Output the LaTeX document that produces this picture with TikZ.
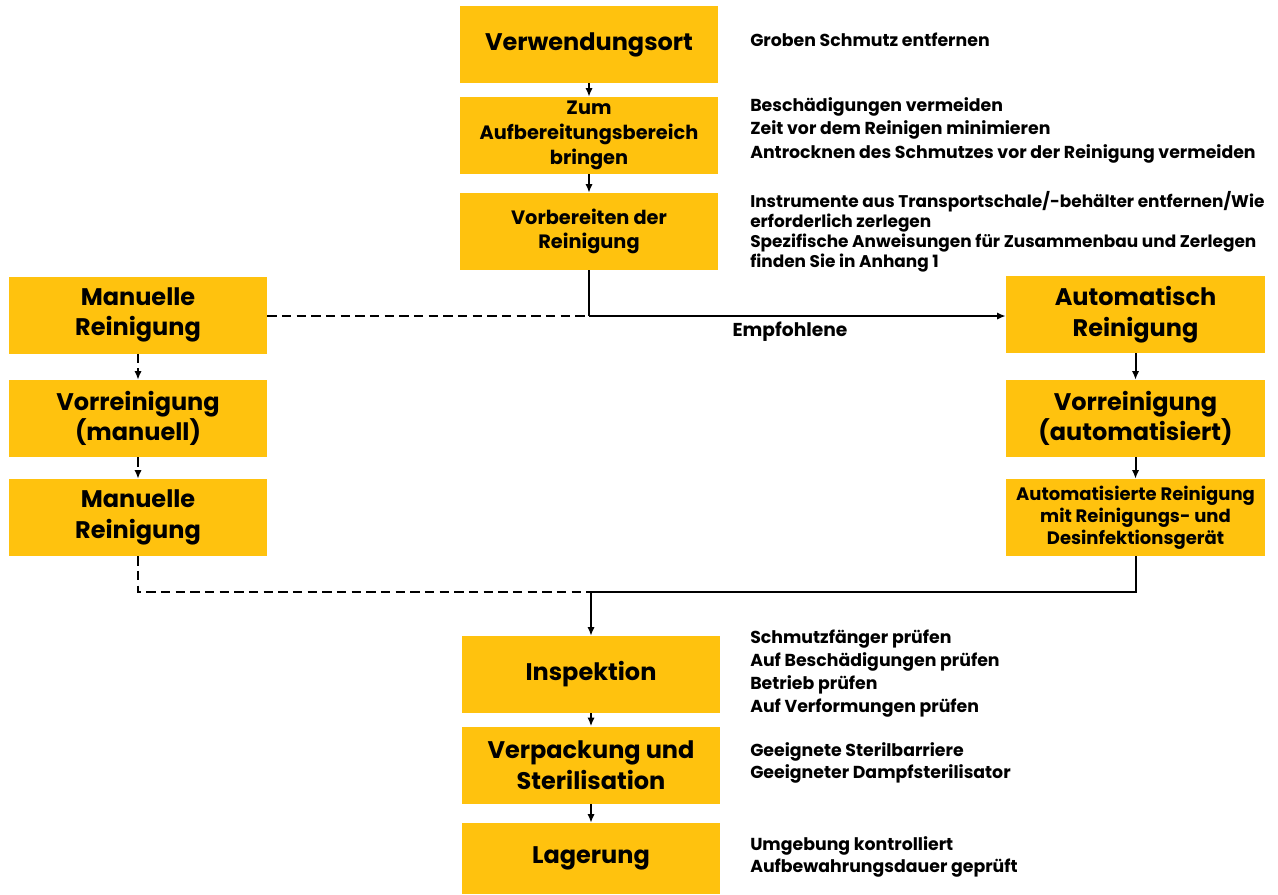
\documentclass[tikz,border=0pt]{standalone}
\usepackage{fontspec}
\setmainfont{Poppins}
\usetikzlibrary{arrows.meta}
\definecolor{boxfill}{HTML}{FFC20E}
\begin{document}
\begin{tikzpicture}[x=0.75pt,y=-0.75pt,
  box/.style={fill=boxfill, minimum width=193.5pt, minimum height=57.75pt,
    inner sep=0pt, align=center, font=\bfseries\fontsize{18}{23}\selectfont},
  midbox/.style={box, font=\bfseries\fontsize{14.5}{18.5}\selectfont},
  narrowbox/.style={box, font=\bfseries\fontsize{13.5}{16.5}\selectfont},
  note/.style={anchor=west, align=left, inner sep=0pt},
  flow/.style={line width=1.5pt, -{Latex[length=6.5pt,width=5.5pt]}},
  plain/.style={line width=1.5pt},
  dashflow/.style={line width=1.5pt, dash pattern=on 7pt off 4pt, -{Latex[length=6.5pt,width=5.5pt]}},
  dashline/.style={line width=1.5pt, dash pattern=on 7pt off 4pt}
]
\useasboundingbox (0,0) rectangle (1278,894);

% central column
\node[box] (verw) at (589,44.5) {Verwendungsort};
\node[midbox] (zum) at (589,135.5) {Zum\\Aufbereitungsbereich\\bringen};
\node[midbox] (vorb) at (589,231.5) {Vorbereiten der\\Reinigung};

% manual branch
\node[box] (man1) at (138,315) {Manuelle\\Reinigung};
\node[box] (vorm) at (138,418.5) {Vorreinigung\\(manuell)};
\node[box] (man2) at (138,517.5) {Manuelle\\Reinigung};

% automatic branch
\node[box, minimum width=194.25pt] (auto1) at (1135.5,314.5) {Automatisch\\Reinigung};
\node[box, minimum width=194.25pt] (vora) at (1135.5,418.5) {Vorreinigung\\(automatisiert)};
\node[narrowbox, minimum width=194.25pt] (autor) at (1135.5,517.5) {Automatisierte Reinigung\\mit Reinigungs- und\\Desinfektionsgerät};

% final steps
\node[box] (insp) at (591,674.5) {Inspektion};
\node[box] (verp) at (591,765) {Verpackung und\\Sterilisation};
\node[box, minimum height=53.25pt] (lager) at (591,858.5) {Lagerung};

% notes beside the steps
\begin{scope}[every node/.style={note, font=\bfseries\fontsize{13}{17.6}\selectfont}]
\node (n1) at (750,40) {Groben Schmutz entfernen};
\node (n2) at (750,130) {Beschädigungen vermeiden\\Zeit vor dem Reinigen minimieren\\Antrocknen des Schmutzes vor der Reinigung vermeiden};
\node[font=\bfseries\fontsize{12.7}{15}\selectfont] (n3) at (750,232) {Instrumente aus Transportschale/-behälter entfernen/Wie\\erforderlich zerlegen\\Spezifische Anweisungen für Zusammenbau und Zerlegen\\finden Sie in Anhang 1};
\node[font=\bfseries\fontsize{13}{17.25}\selectfont] (n4) at (750,674) {Schmutzfänger prüfen\\Auf Beschädigungen prüfen\\Betrieb prüfen\\Auf Verformungen prüfen};
\node[font=\bfseries\fontsize{13}{16.5}\selectfont] (n5) at (750,763) {Geeignete Sterilbarriere\\Geeigneter Dampfsterilisator};
\node[font=\bfseries\fontsize{13}{16.5}\selectfont] (n6) at (750,857) {Umgebung kontrolliert\\Aufbewahrungsdauer geprüft};
\end{scope}

% junctions
\coordinate (split) at (589,316);
\coordinate (merge) at (591,592);

% connectors
\draw[flow] (verw) -- (zum);
\draw[flow] (zum) -- (vorb);
\draw[plain] (vorb.south) -- (split);
\draw[flow] (split) -- (auto1.west |- split);
\draw[dashline] (man1.east |- split) -- (split);
\node[font=\bfseries\fontsize{14}{16}\selectfont, inner sep=0pt] (empf) at (790,332) {Empfohlene};

\draw[dashflow] (man1) -- (vorm);
\draw[dashflow] (vorm) -- (man2);
\draw[dashline] (man2.south) |- (merge);

\draw[flow] (vora.south |- auto1.south) -- (vora.north);
\draw[flow] (vora) -- (autor);
\draw[plain] (autor.south) |- (merge);
\draw[flow] (merge) -- (insp.north);

\draw[flow] (insp) -- (verp);
\draw[flow] (verp) -- (lager);
\end{tikzpicture}
\end{document}
